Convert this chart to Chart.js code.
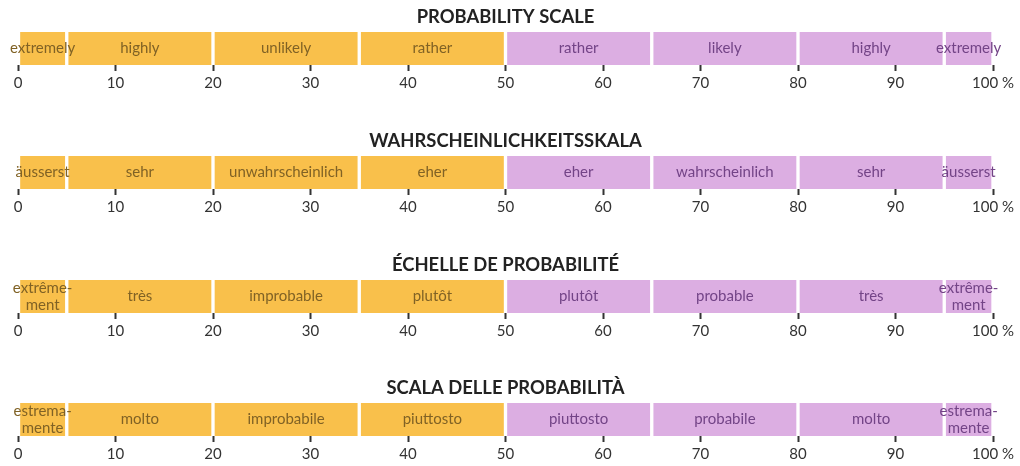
<!DOCTYPE html>
<html>
<head>
<meta charset="utf-8">
<script src="https://cdn.jsdelivr.net/npm/chart.js@4"></script>
<style>
  html, body { margin: 0; padding: 0; background: #fff; }
  #wrap { position: relative; width: 1020px; height: 466px; }
  .box { position: absolute; left: 0; width: 1020px; height: 95px; }
</style>
</head>
<body>
<div id="wrap">
  <div class="box" style="top:0px"><canvas id="c0"></canvas></div>
  <div class="box" style="top:124px"><canvas id="c1"></canvas></div>
  <div class="box" style="top:248px"><canvas id="c2"></canvas></div>
  <div class="box" style="top:371px"><canvas id="c3"></canvas></div>
</div>
<script>
// segment widths in percent (0-5, 5-20, ... 95-100)
const segments = [5, 15, 15, 15, 15, 15, 15, 5];
const titles = ['PROBABILITY SCALE', 'WAHRSCHEINLICHKEITSSKALA', 'ÉCHELLE DE PROBABILITÉ', 'SCALA DELLE PROBABILITÀ'];
const labelsEN = ['extremely', 'highly', 'unlikely', 'rather', 'rather', 'likely', 'highly', 'extremely'];
const labelsDE = ['äusserst', 'sehr', 'unwahrscheinlich', 'eher', 'eher', 'wahrscheinlich', 'sehr', 'äusserst'];
const labelsFR = [['extrême-', 'ment'], 'très', 'improbable', 'plutôt', 'plutôt', 'probable', 'très', ['extrême-', 'ment']];
const labelsIT = [['estrema-', 'mente'], 'molto', 'improbabile', 'piuttosto', 'piuttosto', 'probabile', 'molto', ['estrema-', 'mente']];
const tickMax = 100;
const tickStep = 10;

const allLabels = [labelsEN, labelsDE, labelsFR, labelsIT];
const unlikelyColor = '#f9c04b';
const likelyColor = '#dcaee2';
const unlikelyText = '#806225';
const likelyText = '#734487';

const segLabels = {
    id: 'segLabels',
    afterDatasetsDraw(chart) {
        const ctx = chart.ctx;
        const names = chart.options.plugins.segLabels.names;
        ctx.save();
        ctx.font = '15px Lato';
        ctx.textAlign = 'center';
        ctx.textBaseline = 'middle';
        chart.data.datasets.forEach((ds, i) => {
            const bar = chart.getDatasetMeta(i).data[0];
            const cx = (bar.x + bar.base) / 2;
            ctx.fillStyle = i < 4 ? unlikelyText : likelyText;
            const txt = names[i];
            if (Array.isArray(txt)) {
                ctx.fillText(txt[0], cx, bar.y - 8);
                ctx.fillText(txt[1], cx, bar.y + 9);
            } else {
                ctx.fillText(txt, cx, bar.y);
            }
        });
        ctx.restore();
    }
};

function makeChart(idx) {
    const ctx = document.getElementById('c' + idx).getContext('2d');
    const datasets = segments.map((w, i) => ({
        data: [w],
        backgroundColor: i < 4 ? unlikelyColor : likelyColor,
        borderColor: '#ffffff',
        borderWidth: { left: 2, right: 2, top: 0, bottom: 0 },
        borderSkipped: false,
        barPercentage: 1,
        categoryPercentage: 1
    }));
    new Chart(ctx, {
        type: 'bar',
        data: { labels: [''], datasets },
        plugins: [segLabels],
        options: {
            indexAxis: 'y',
            responsive: true,
            maintainAspectRatio: false,
            animation: false,
            layout: { padding: { left: 18, right: 27, top: 0, bottom: 0 } },
            plugins: {
                legend: { display: false },
                tooltip: { enabled: false },
                title: {
                    display: true,
                    text: titles[idx],
                    color: '#222',
                    font: { family: 'Lato', size: 18.4, weight: 'bold', lineHeight: 1.2 },
                    padding: { top: 6, bottom: 4 }
                },
                segLabels: { names: allLabels[idx] }
            },
            scales: {
                x: {
                    stacked: true,
                    min: 0,
                    max: tickMax,
                    border: { display: false },
                    grid: { drawOnChartArea: false, drawTicks: true, tickLength: 6, tickWidth: 2, tickColor: '#333' },
                    ticks: {
                        stepSize: tickStep,
                        padding: 3,
                        color: '#333',
                        font: { family: 'Lato', size: 15 },
                        maxRotation: 0,
                        callback: v => v === tickMax ? v + ' %' : v
                    }
                },
                y: { stacked: true, display: false }
            }
        }
    });
}

[0, 1, 2, 3].forEach(makeChart);
</script>
</body>
</html>
